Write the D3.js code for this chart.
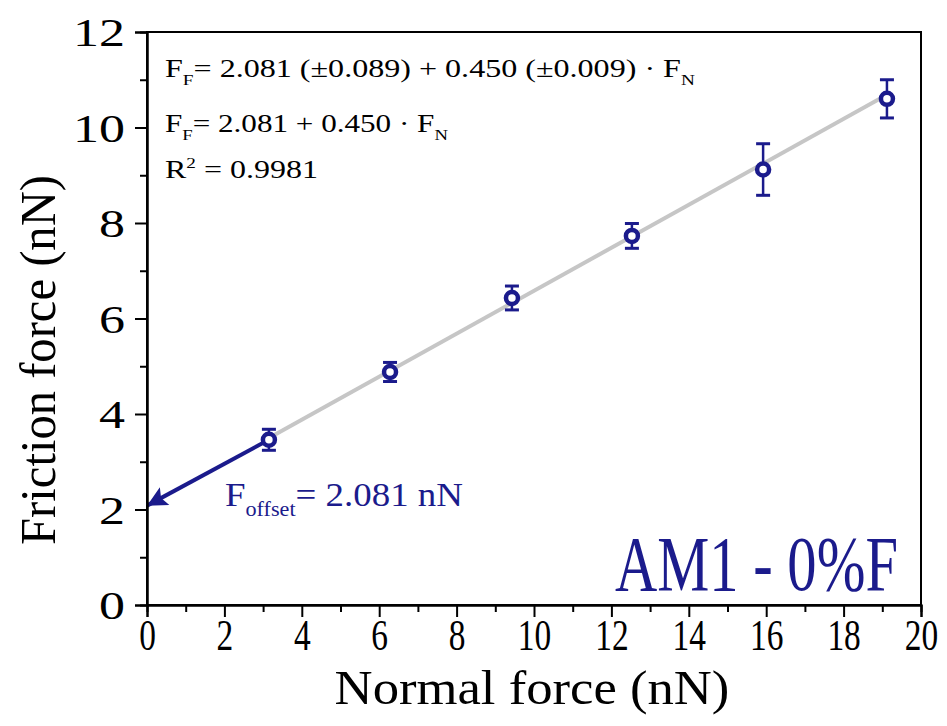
<!DOCTYPE html>
<html>
<head>
<meta charset="utf-8">
<script src="https://cdn.jsdelivr.net/npm/d3@7"></script>
<style>
  body { margin: 0; background: #fff; }
  svg text { font-family: "Liberation Serif", "Times New Roman", serif; }
</style>
</head>
<body>
<div id="chart"></div>
<script>
// data
const normalForce = [3.15, 6.28, 9.43, 12.53, 15.92, 19.12];
const frictionForce = [3.46, 4.88, 6.43, 7.73, 9.12, 10.60];
const frictionErr = [0.22, 0.20, 0.25, 0.26, 0.54, 0.40];

// linear fit
const fitIntercept = 2.081;
const fitSlope = 0.450;

const xTicks = [0, 2, 4, 6, 8, 10, 12, 14, 16, 18, 20];
const xMinor = [1, 3, 5, 7, 9, 11, 13, 15, 17, 19];
const yTicks = [0, 2, 4, 6, 8, 10, 12];
const yMinor = [1, 3, 5, 7, 9, 11];

const navy = '#1b1b8c';
const fitGrey = '#c6c6c6';

let W = 947, H = 726;
let margin = { top: 32, right: 26, bottom: 121, left: 147 };
let width = W - margin.left - margin.right;
let height = H - margin.top - margin.bottom;

let svg = d3.select('#chart')
    .append('svg')
    .attr('width', W)
    .attr('height', H)
    .append('g')
    .attr('transform', `translate(${margin.left}, ${margin.top})`);

let x = d3.scaleLinear().domain([0, 20]).range([0, width]);
let y = d3.scaleLinear().domain([0, 12]).range([height, 0]);

// squeeze/stretch a text horizontally so it takes the wanted width
function fitWidth(sel, target, px, py) {
    let w = sel.node().getComputedTextLength();
    let s = target / w;
    sel.attr('transform', `translate(${px}, ${py}) scale(${s}, 1)`);
}

// frame
svg.append('rect')
    .attr('width', width)
    .attr('height', height)
    .attr('fill', 'none')
    .attr('stroke', '#000')
    .attr('stroke-width', 2);

// fit line
let fitLine = d3.line()
    .x(d => x(d))
    .y(d => y(fitIntercept + fitSlope * d));

svg.append('path')
    .datum([normalForce[0], normalForce[normalForce.length - 1]])
    .attr('d', fitLine)
    .attr('fill', 'none')
    .attr('stroke', fitGrey)
    .attr('stroke-width', 4);

// offset arrow
svg.append('defs').append('marker')
    .attr('id', 'head')
    .attr('viewBox', '0 0 10 10')
    .attr('refX', 10)
    .attr('refY', 5)
    .attr('markerWidth', 6.5)
    .attr('markerHeight', 5)
    .attr('markerUnits', 'strokeWidth')
    .attr('orient', 'auto')
    .append('path')
    .attr('d', 'M0,0 L10,5 L0,10 L2,5 Z')
    .attr('fill', navy);

svg.append('line')
    .attr('x1', x(normalForce[0]))
    .attr('y1', y(frictionForce[0]))
    .attr('x2', x(0))
    .attr('y2', y(fitIntercept))
    .attr('stroke', navy)
    .attr('stroke-width', 4)
    .attr('marker-end', 'url(#head)');

// error bars + points
let pts = normalForce.map((v, i) => ({ x: v, y: frictionForce[i], e: frictionErr[i] }));

let g = svg.selectAll('.pt')
    .data(pts)
    .join('g')
    .attr('class', 'pt');

g.append('line')
    .attr('x1', d => x(d.x)).attr('x2', d => x(d.x))
    .attr('y1', d => y(d.y - d.e)).attr('y2', d => y(d.y + d.e))
    .attr('stroke', navy).attr('stroke-width', 2.5);

g.selectAll('.cap')
    .data(d => [[d.x, d.y - d.e], [d.x, d.y + d.e]])
    .join('line')
    .attr('class', 'cap')
    .attr('x1', d => x(d[0]) - 7).attr('x2', d => x(d[0]) + 7)
    .attr('y1', d => y(d[1])).attr('y2', d => y(d[1]))
    .attr('stroke', navy).attr('stroke-width', 3);

g.append('circle')
    .attr('cx', d => x(d.x))
    .attr('cy', d => y(d.y))
    .attr('r', 6)
    .attr('fill', '#fff')
    .attr('stroke', navy)
    .attr('stroke-width', 4.5);

// axes
let yAxis = svg.append('g')
    .call(d3.axisLeft(y).tickValues(yTicks).tickSize(12).tickPadding(10).tickFormat(d3.format('d')));
let yAxisMinor = svg.append('g')
    .call(d3.axisLeft(y).tickValues(yMinor).tickSize(7).tickFormat(''));
let xAxis = svg.append('g')
    .attr('transform', `translate(0, ${height})`)
    .call(d3.axisBottom(x).tickValues(xTicks).tickSize(12).tickPadding(8).tickFormat(d3.format('d')));
let xAxisMinor = svg.append('g')
    .attr('transform', `translate(0, ${height})`)
    .call(d3.axisBottom(x).tickValues(xMinor).tickSize(7).tickFormat(''));

[yAxis, yAxisMinor, xAxis, xAxisMinor].forEach(a => {
    a.select('.domain').attr('stroke-width', 2);
    a.selectAll('.tick line').attr('stroke-width', 2);
});

let ySx = 1.3;
yAxis.selectAll('.tick text')
    .attr('font-size', 40)
    .attr('fill', '#000')
    .attr('font-family', '"Liberation Serif", serif')
    .attr('x', -22 / ySx)
    .attr('dy', '0.34em')
    .attr('transform', `scale(${ySx}, 1)`);

let xSx = 0.76;
xAxis.selectAll('.tick text')
    .attr('font-size', 44)
    .attr('fill', '#000')
    .attr('font-family', '"Liberation Serif", serif')
    .attr('y', 14)
    .attr('transform', `scale(${xSx}, 1)`);

// axis titles
let xTitle = svg.append('text')
    .attr('font-size', 48)
    .attr('text-anchor', 'middle')
    .text('Normal force (nN)');
fitWidth(xTitle, 395, 532 - margin.left, 704 - margin.top);

let yTitle = svg.append('text')
    .attr('font-size', 50)
    .attr('text-anchor', 'middle')
    .text('Friction force (nN)');
{
    let w = yTitle.node().getComputedTextLength();
    yTitle.attr('transform', `translate(${55 - margin.left}, ${360 - margin.top}) rotate(-90) scale(${370 / w}, 1)`);
}

// fit equations
function eqRow(parts, size) {
    let t = svg.append('text').attr('font-size', size).attr('fill', '#000');
    parts.forEach(p => {
        let s = t.append('tspan').text(p.t);
        if (p.sub) s.attr('font-size', size * 0.6).attr('dy', size * 0.3);
        if (p.sup) s.attr('font-size', size * 0.6).attr('dy', -size * 0.4);
        if (p.back) s.attr('dy', p.back);
    });
    return t;
}

let fs = 25;
let row1 = eqRow([
    { t: 'F' }, { t: 'F', sub: true }, { t: '= 2.081 (±0.089) + 0.450 (±0.009) · F', back: -fs * 0.3 },
    { t: 'N', sub: true }
], fs);
fitWidth(row1, 530, 165 - margin.left, 77 - margin.top);

let row2 = eqRow([
    { t: 'F' }, { t: 'F', sub: true }, { t: '= 2.081 + 0.450 · F', back: -fs * 0.3 },
    { t: 'N', sub: true }
], fs);
fitWidth(row2, 283, 165 - margin.left, 132 - margin.top);

let row3 = eqRow([
    { t: 'R' }, { t: '2', sup: true }, { t: ' = 0.9981', back: fs * 0.4 }
], fs);
fitWidth(row3, 153, 165 - margin.left, 178 - margin.top);

// offset label
let offs = 34;
let offLabel = svg.append('text').attr('font-size', offs).attr('fill', navy);
offLabel.append('tspan').text('F');
offLabel.append('tspan').text('offset').attr('font-size', offs * 0.6).attr('dy', offs * 0.3);
offLabel.append('tspan').text('= 2.081 nN').attr('dy', -offs * 0.3);
fitWidth(offLabel, 238, 225 - margin.left, 506 - margin.top);

// sample tag
let tag = svg.append('text')
    .attr('font-size', 78)
    .attr('fill', navy)
    .text('AM1 - 0%F');
fitWidth(tag, 283, 615 - margin.left, 590 - margin.top);
</script>
</body>
</html>
